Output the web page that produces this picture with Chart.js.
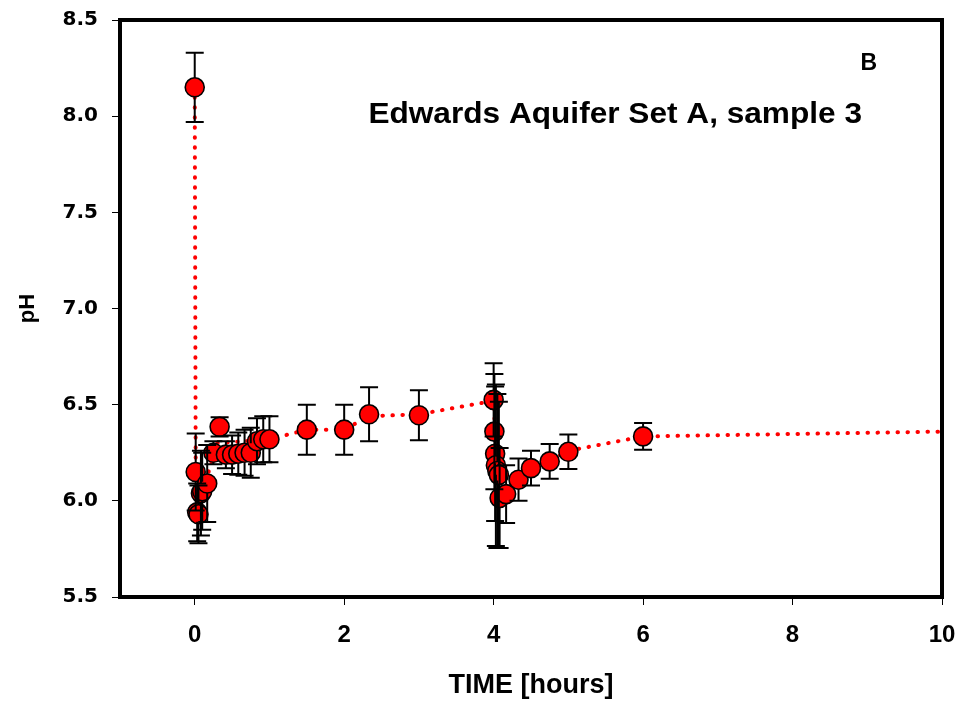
<!DOCTYPE html>
<html>
<head>
<meta charset="utf-8">
<script src="https://cdn.jsdelivr.net/npm/chart.js@4.4.1/dist/chart.umd.min.js"></script>
<style>
html,body{margin:0;padding:0;background:#fff;}
#wrap{width:959px;height:702px;position:relative;}
</style>
</head>
<body>
<div id="wrap"><canvas id="c" width="959" height="702"></canvas></div>
<script>
// Measured samples: time [hours], pH, error (±)
const timeHours = [0, 0.013, 0.033, 0.05, 0.083, 0.1, 0.167, 0.25, 0.333, 0.417, 0.5, 0.583, 0.667, 0.75, 0.833, 0.917, 1.0, 1.5, 2.0, 2.333, 3.0, 4.0, 4.01, 4.02, 4.03, 4.05, 4.07, 4.08, 4.167, 4.333, 4.5, 4.75, 5.0, 6.0];
const phValues = [8.15, 6.15, 5.94, 5.93, 6.04, 6.05, 6.09, 6.25, 6.385, 6.24, 6.24, 6.245, 6.25, 6.25, 6.31, 6.32, 6.32, 6.37, 6.37, 6.45, 6.445, 6.525, 6.36, 6.245, 6.185, 6.155, 6.135, 6.015, 6.035, 6.11, 6.17, 6.205, 6.255, 6.335];
const phErrors = [0.18, 0.20, 0.15, 0.15, 0.22, 0.20, 0.20, 0.06, 0.05, 0.07, 0.10, 0.11, 0.12, 0.13, 0.12, 0.12, 0.12, 0.13, 0.13, 0.14, 0.13, 0.19, 0.30, 0.35, 0.42, 0.40, 0.38, 0.26, 0.15, 0.11, 0.09, 0.09, 0.09, 0.07];
// Dotted trend line
const lineTime = [0, 0.013, 0.17, 0.3, 1.0, 1.5, 2.0, 2.333, 3.0, 4.0, 4.02, 4.08, 4.333, 4.5, 4.75, 5.0, 6.0, 10.0];
const linePH = [8.15, 6.16, 6.13, 6.30, 6.32, 6.37, 6.37, 6.44, 6.45, 6.52, 6.36, 6.03, 6.11, 6.17, 6.21, 6.26, 6.335, 6.36];
// Axis ticks
const xTickValues = [0, 2, 4, 6, 8, 10];
const yTickValues = [5.5, 6.0, 6.5, 7.0, 7.5, 8.0, 8.5];
const chartTitle = 'Edwards Aquifer Set A, sample 3';
const panelLabel = 'B';
const xTitle = 'TIME [hours]';
const yTitle = 'pH';

const points = timeHours.map((t, i) => ({x: t, y: phValues[i], e: phErrors[i]}));
const linePts = lineTime.map((t, i) => ({x: t, y: linePH[i]}));

const MARKER_R = 9.5;

const errorBars = {
  id: 'errorBars',
  afterDatasetsDraw(chart) {
    const ctx = chart.ctx;
    const xs = chart.scales.x, ys = chart.scales.y;
    ctx.save();
    ctx.strokeStyle = '#000';
    ctx.lineWidth = 2;
    points.forEach(p => {
      const px = xs.getPixelForValue(p.x);
      const py = ys.getPixelForValue(p.y);
      const top = ys.getPixelForValue(p.y + p.e);
      const bot = ys.getPixelForValue(p.y - p.e);
      ctx.beginPath();
      if (top < py - MARKER_R) { ctx.moveTo(px, top); ctx.lineTo(px, py - MARKER_R); }
      if (bot > py + MARKER_R) { ctx.moveTo(px, py + MARKER_R); ctx.lineTo(px, bot); }
      ctx.moveTo(px - 9, top); ctx.lineTo(px + 9, top);
      ctx.moveTo(px - 9, bot); ctx.lineTo(px + 9, bot);
      ctx.stroke();
    });
    ctx.restore();
  }
};

const frame = {
  id: 'frame',
  afterDraw(chart) {
    const a = chart.chartArea;
    const ctx = chart.ctx;
    ctx.save();
    ctx.strokeStyle = '#000';
    ctx.lineWidth = 4;
    ctx.strokeRect(a.left, a.top, a.right - a.left, a.bottom - a.top);
    ctx.fillStyle = '#000';
    ctx.textBaseline = 'alphabetic';
    ctx.textAlign = 'right';
    ctx.font = 'bold 23px "Liberation Sans", Arial, sans-serif';
    ctx.fillText(panelLabel, 877, 70);
    ctx.save();
    ctx.translate(862, 123);
    ctx.scale(1.09, 1);
    ctx.font = 'bold 29px "Liberation Sans", Arial, sans-serif';
    ctx.fillText(chartTitle, 0, 0);
    ctx.restore();
    ctx.restore();
  }
};

new Chart(document.getElementById('c'), {
  type: 'scatter',
  data: {
    datasets: [
      {
        label: 'pH',
        data: points,
        order: 0,
        pointRadius: MARKER_R,
        pointHoverRadius: MARKER_R,
        pointBackgroundColor: '#ff0000',
        pointBorderColor: '#000',
        pointBorderWidth: 1.6,
        showLine: false
      },
      {
        label: 'trend',
        data: linePts,
        order: 1,
        showLine: true,
        pointRadius: 0,
        borderColor: '#ff0000',
        borderWidth: 4,
        borderDash: [0.5, 9.5],
        borderCapStyle: 'round',
        tension: 0
      }
    ]
  },
  options: {
    responsive: false,
    animation: false,
    events: [],
    layout: {padding: {left: 0, top: 20, right: 17, bottom: 0}},
    plugins: {legend: {display: false}, tooltip: {enabled: false}},
    scales: {
      x: {
        type: 'linear',
        min: -1, max: 10,
        afterBuildTicks: s => { s.ticks = xTickValues.map(v => ({value: v})); },
        afterFit: s => { s.height = 105; s.paddingLeft = 0; s.paddingRight = 0; },
        border: {display: false},
        grid: {drawOnChartArea: false, drawTicks: true, tickLength: 8, color: '#000', lineWidth: 1},
        ticks: {
          color: '#000',
          padding: 16,
          maxRotation: 0,
          font: {family: '"Liberation Sans Narrow", "Liberation Sans", Arial, sans-serif', weight: 'bold', size: 24},
          callback: v => String(v)
        },
        title: {
          display: true, text: xTitle, color: '#000',
          font: {family: '"Liberation Sans Narrow", "Liberation Sans", Arial, sans-serif', weight: 'bold', size: 27},
          padding: {top: 0, bottom: 0}
        }
      },
      y: {
        type: 'linear',
        min: 5.5, max: 8.5,
        afterBuildTicks: s => { s.ticks = yTickValues.map(v => ({value: v})); },
        afterFit: s => { s.width = 120; s.paddingTop = 0; s.paddingBottom = 0; },
        border: {display: false},
        grid: {drawOnChartArea: false, drawTicks: true, tickLength: 8, color: '#000', lineWidth: 1},
        ticks: {
          color: '#000',
          padding: 14,
          font: {family: '"DejaVu Sans", "Liberation Sans", Arial, sans-serif', weight: 'bold', size: 20},
          callback: v => Number(v).toFixed(1)
        },
        title: {
          display: true, text: yTitle, color: '#000',
          font: {family: '"Liberation Sans", Arial, sans-serif', weight: 'bold', size: 22},
          padding: {top: 15, bottom: 0}
        }
      }
    }
  },
  plugins: [errorBars, frame]
});
</script>
</body>
</html>
